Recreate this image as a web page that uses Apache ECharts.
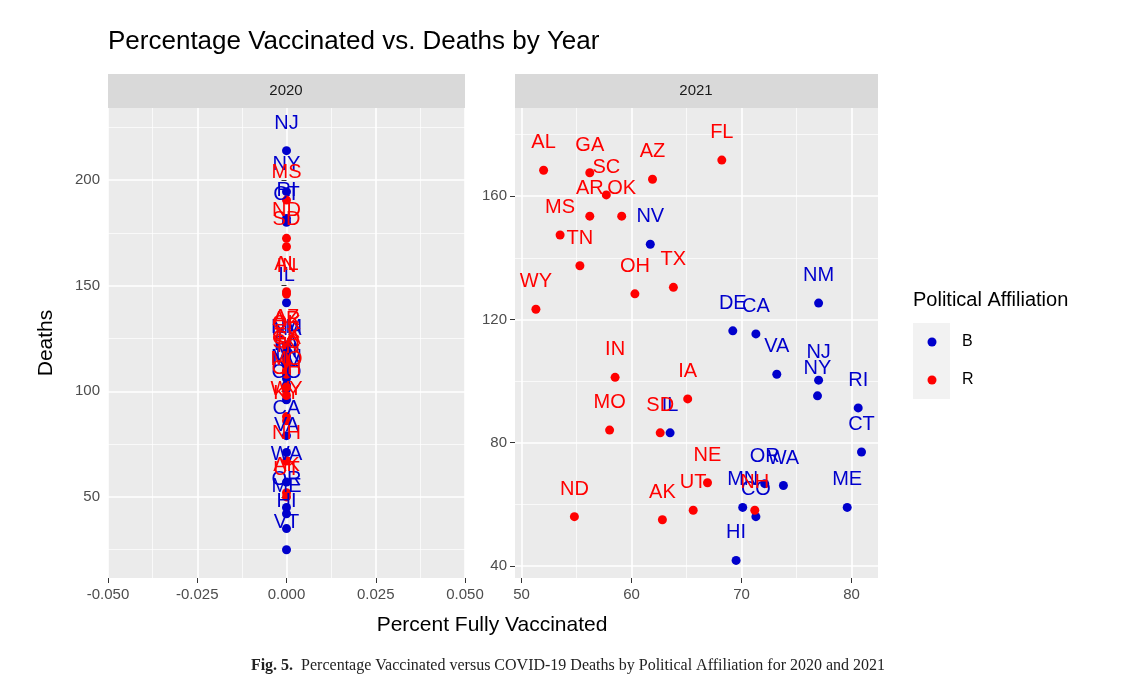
<!DOCTYPE html>
<html>
<head>
<meta charset="UTF-8">
<title>Percentage Vaccinated vs. Deaths by Year</title>
<style>
  html, body { margin: 0; padding: 0; background: #fff; }
  #chart { width: 1136px; height: 686px; }
</style>
<script src="https://cdn.jsdelivr.net/npm/echarts@6/dist/echarts.min.js"></script>
</head>
<body>
<div id="chart"></div>
<script>
// 2021 panel
var states2021 = ['AL','GA','SC','AR','OK','MS','TN','NV','AZ','FL','OH','TX','WY','NM','DE','CA','VA','NJ','NY','RI','CT','IN','IA','MO','SD','IL','NE','UT','AK','ND','WA','OR','MN','NH','CO','HI','ME'];
var pct2021 = [52.0,56.2,57.7,56.2,59.1,53.5,55.3,61.7,61.9,68.2,60.3,63.8,51.3,77.0,69.2,71.3,73.2,77.0,76.9,80.6,80.9,58.5,65.1,58.0,62.6,63.5,66.9,65.6,62.8,54.8,73.8,72.1,70.1,71.2,71.3,69.5,79.6];
var deaths2021 = [168.4,167.6,160.4,153.5,153.5,147.4,137.4,144.4,165.5,171.7,128.3,130.4,123.3,125.3,116.3,115.3,102.2,100.3,95.2,91.3,77.0,101.2,94.2,84.1,83.2,83.2,67.0,58.1,55.0,56.0,66.1,66.7,59.0,58.1,56.0,41.8,59.0];
var party2021 = ['R','R','R','R','R','R','R','B','R','R','R','R','R','B','B','B','B','B','B','B','B','R','R','R','R','B','R','R','R','R','B','B','B','R','B','B','B'];

// 2020 panel (everything sits at 0 % vaccinated)
var states2020 = ['NJ','NY','MS','RI','CT','ND','SD','AL','IN','IL','AZ','AR','OK','NM','MA','FL','TX','GA','SC','PA','TN','MI','MN','MO','NV','OH','CO','WY','KY','CA','VA','NH','WA','AK','UT','OR','ME','HI','VT'];
var deaths2020 = [213.9,194.5,190.5,181.8,180.0,172.4,168.4,147.1,146.0,141.9,122.0,121.0,119.0,117.0,116.0,115.0,113.0,112.0,110.0,109.0,108.0,106.0,103.0,102.0,101.0,98.0,96.0,88.0,86.0,79.0,71.0,67.0,57.0,52.0,50.0,45.0,42.0,35.0,25.0];
var party2020 = ['B','B','R','B','B','R','R','R','R','B','R','R','R','B','B','R','R','R','R','B','R','B','B','R','B','R','B','R','R','B','B','R','B','R','R','B','B','B','B'];

var colB = '#0000cc', colR = '#ff0000';

function pick(xs, ys, names, parties, p) {
  var out = [];
  for (var i = 0; i < names.length; i++) {
    if (parties[i] === p) out.push([xs ? xs[i] : 0, ys[i], names[i]]);
  }
  return out;
}

function ser(idx, data, color) {
  return {
    type: 'scatter', xAxisIndex: idx, yAxisIndex: idx * 2, data: data,
    symbolSize: 9, itemStyle: { color: color, opacity: 1 }, z: 5,
    label: { show: true, position: 'top', distance: 13, color: color, fontSize: 20,
      fontFamily: 'Liberation Sans', formatter: function (p) { return p.data[2]; } }
  };
}

var axisTxt = { color: '#4d4d4d', fontSize: 15, fontFamily: 'Liberation Sans' };
function yAxes(grid, min, max, major, minor) {
  return [{
    type: 'value', gridIndex: grid, min: min, max: max,
    axisLine: { show: false },
    axisTick: { show: true, length: 5, lineStyle: { color: '#333' }, customValues: major },
    axisLabel: Object.assign({ customValues: major, margin: 8 }, axisTxt),
    splitLine: { show: true, lineStyle: { color: '#fff', width: 1.6 } }
  }, {
    type: 'value', gridIndex: grid, min: min, max: max,
    axisLine: { show: false }, axisLabel: { show: false },
    axisTick: { show: false, customValues: minor },
    splitLine: { show: true, lineStyle: { color: '#fff', width: 0.7 } }
  }];
}

var chart = echarts.init(document.getElementById('chart'));
chart.setOption({
  backgroundColor: '#fff',
  animation: false,
  grid: [
    { left: 108, right: 671, top: 108, bottom: 108, show: true, backgroundColor: '#ebebeb', borderWidth: 0 },
    { left: 515, right: 258, top: 108, bottom: 108, show: true, backgroundColor: '#ebebeb', borderWidth: 0 }
  ],
  xAxis: [{
    type: 'value', gridIndex: 0, min: -0.05, max: 0.05, interval: 0.025,
    axisLine: { show: false },
    axisTick: { show: true, length: 5, lineStyle: { color: '#333' } },
    axisLabel: Object.assign({ margin: 9, formatter: function (v) { return v.toFixed(3); } }, axisTxt),
    minorTick: { show: false, splitNumber: 2 },
    splitLine: { show: true, lineStyle: { color: '#fff', width: 1.6 } },
    minorSplitLine: { show: true, lineStyle: { color: '#fff', width: 0.7 } }
  }, {
    type: 'value', gridIndex: 1, min: 49.4, max: 82.4,
    axisLine: { show: false },
    axisTick: { show: true, length: 5, lineStyle: { color: '#333' }, customValues: [50, 60, 70, 80] },
    axisLabel: Object.assign({ margin: 9, customValues: [50, 60, 70, 80] }, axisTxt),
    splitLine: { show: true, lineStyle: { color: '#fff', width: 1.6 } }
  }, {
    type: 'value', gridIndex: 1, min: 49.4, max: 82.4,
    axisLine: { show: false }, axisLabel: { show: false },
    axisTick: { show: false, customValues: [55, 65, 75] },
    splitLine: { show: true, lineStyle: { color: '#fff', width: 0.7 } }
  }],
  yAxis: [].concat(
    yAxes(0, 11.6, 234.1, [50, 100, 150, 200], [25, 75, 125, 175, 225]),
    yAxes(1, 36.1, 188.6, [40, 80, 120, 160], [60, 100, 140, 180])
  ),
  series: [
    ser(0, pick(null, deaths2020, states2020, party2020, 'B'), colB),
    ser(0, pick(null, deaths2020, states2020, party2020, 'R'), colR),
    ser(1, pick(pct2021, deaths2021, states2021, party2021, 'B'), colB),
    ser(1, pick(pct2021, deaths2021, states2021, party2021, 'R'), colR)
  ],
  graphic: [
    { type: 'text', left: 108, top: 29, style: { text: 'Percentage Vaccinated vs. Deaths by Year', fontSize: 26, fill: '#000', fontFamily: 'Liberation Sans' } },
    { type: 'rect', shape: { x: 108, y: 74, width: 357, height: 34 }, style: { fill: '#d9d9d9' } },
    { type: 'rect', shape: { x: 515, y: 74, width: 363, height: 34 }, style: { fill: '#d9d9d9' } },
    { type: 'text', x: 286, y: 91, style: { text: '2020', fontSize: 15, fill: '#1a1a1a', align: 'center', verticalAlign: 'middle', fontFamily: 'Liberation Sans' } },
    { type: 'text', x: 696, y: 91, style: { text: '2021', fontSize: 15, fill: '#1a1a1a', align: 'center', verticalAlign: 'middle', fontFamily: 'Liberation Sans' } },
    { type: 'text', x: 492, y: 625, style: { text: 'Percent Fully Vaccinated', fontSize: 21, fill: '#000', align: 'center', verticalAlign: 'middle', fontFamily: 'Liberation Sans' } },
    { type: 'text', x: 46, y: 343, rotation: Math.PI / 2, style: { text: 'Deaths', fontSize: 21, fill: '#000', align: 'center', verticalAlign: 'middle', fontFamily: 'Liberation Sans' } },
    { type: 'text', left: 913, top: 290, style: { text: 'Political Affiliation', fontSize: 20, fill: '#000', fontFamily: 'Liberation Sans' } },
    { type: 'rect', shape: { x: 913, y: 323, width: 37, height: 76 }, style: { fill: '#f2f2f2' } },
    { type: 'circle', shape: { cx: 932, cy: 342, r: 4.5 }, style: { fill: colB } },
    { type: 'circle', shape: { cx: 932, cy: 380, r: 4.5 }, style: { fill: colR } },
    { type: 'text', x: 962, y: 342, style: { text: 'B', fontSize: 16, fill: '#000', verticalAlign: 'middle', fontFamily: 'Liberation Sans' } },
    { type: 'text', x: 962, y: 380, style: { text: 'R', fontSize: 16, fill: '#000', verticalAlign: 'middle', fontFamily: 'Liberation Sans' } },
    { type: 'text', x: 568, y: 666, style: {
      text: '{b|Fig. 5.}  Percentage Vaccinated versus COVID-19 Deaths by Political Affiliation for 2020 and 2021',
      align: 'center', verticalAlign: 'middle', fontSize: 16, fill: '#222', fontFamily: 'Liberation Serif',
      rich: { b: { fontWeight: 'bold', fontSize: 16, fontFamily: 'Liberation Serif', fill: '#222' } } } }
  ]
});
</script>
</body>
</html>
